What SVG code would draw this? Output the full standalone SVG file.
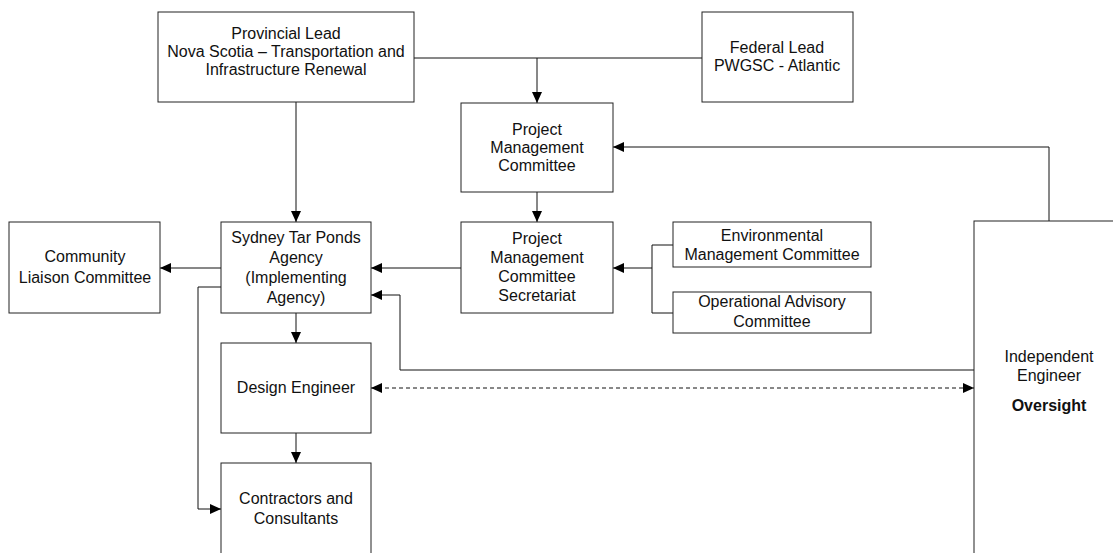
<svg xmlns="http://www.w3.org/2000/svg" width="1113" height="553" viewBox="0 0 1113 553">
<style>
.box{fill:#fff;stroke:#222;stroke-width:1}
.t{font-family:"Liberation Sans",Arial,sans-serif;font-size:16px;fill:#111;text-anchor:middle}
.b{font-weight:bold}
.c{fill:none;stroke:#111;stroke-width:1}
.d{stroke-dasharray:4,3}
</style>
<defs>
<marker id="ah" markerWidth="11" markerHeight="10" refX="11" refY="5" orient="auto" markerUnits="userSpaceOnUse">
<path d="M0,0 L11,5 L0,10 z" fill="#000"/>
</marker>
<marker id="as" markerWidth="11" markerHeight="10" refX="0" refY="5" orient="auto" markerUnits="userSpaceOnUse">
<path d="M11,0 L0,5 L11,10 z" fill="#000"/>
</marker>
</defs>
<rect width="1113" height="553" fill="#fff"/>
<g id="connectors">
<path class="c" d="M414,58 H702"/>
<path class="c" d="M537,58 V103" marker-end="url(#ah)"/>
<path class="c" d="M537,192 V222" marker-end="url(#ah)"/>
<path class="c" d="M296,102 V222" marker-end="url(#ah)"/>
<path class="c" d="M461,268 H371" marker-end="url(#ah)"/>
<path class="c" d="M221,268 H160" marker-end="url(#ah)"/>
<path class="c" d="M673,245 H652 V313 H673"/>
<path class="c" d="M652,268 H613" marker-end="url(#ah)"/>
<path class="c" d="M1049,221 V147 H613" marker-end="url(#ah)"/>
<path class="c" d="M974,370 H400 V295 H371" marker-end="url(#ah)"/>
<path class="c" d="M296,313 V343" marker-end="url(#ah)"/>
<path class="c d" d="M371,388 H974" marker-start="url(#as)" marker-end="url(#ah)"/>
<path class="c" d="M296,433 V463" marker-end="url(#ah)"/>
<path class="c" d="M221,287 H198 V509 H221" marker-end="url(#ah)"/>
</g>
<g id="provincial">
<rect class="box" x="158" y="12" width="256" height="90"/>
<text class="t" x="286" y="39">Provincial Lead</text>
<text class="t" x="286" y="57">Nova Scotia – Transportation and</text>
<text class="t" x="286" y="75">Infrastructure Renewal</text>
</g>
<g id="federal">
<rect class="box" x="702" y="12" width="151" height="90"/>
<text class="t" x="777" y="53">Federal Lead</text>
<text class="t" x="777" y="71">PWGSC - Atlantic</text>
</g>
<g id="pmc">
<rect class="box" x="461" y="103" width="152" height="89"/>
<text class="t" x="537" y="135">Project</text>
<text class="t" x="537" y="153">Management</text>
<text class="t" x="537" y="171">Committee</text>
</g>
<g id="secretariat">
<rect class="box" x="461" y="222" width="152" height="91"/>
<text class="t" x="537" y="244">Project</text>
<text class="t" x="537" y="263">Management</text>
<text class="t" x="537" y="282">Committee</text>
<text class="t" x="537" y="301">Secretariat</text>
</g>
<g id="agency">
<rect class="box" x="221" y="222" width="150" height="91"/>
<text class="t" x="296" y="243">Sydney Tar Ponds</text>
<text class="t" x="296" y="263">Agency</text>
<text class="t" x="296" y="283">(Implementing</text>
<text class="t" x="296" y="303">Agency)</text>
</g>
<g id="community">
<rect class="box" x="9" y="222" width="151" height="91"/>
<text class="t" x="85" y="262">Community</text>
<text class="t" x="85" y="283">Liaison Committee</text>
</g>
<g id="environmental">
<rect class="box" x="673" y="222" width="198" height="45"/>
<text class="t" x="772" y="241">Environmental</text>
<text class="t" x="772" y="260">Management Committee</text>
</g>
<g id="operational">
<rect class="box" x="673" y="292" width="198" height="41"/>
<text class="t" x="772" y="307">Operational Advisory</text>
<text class="t" x="772" y="327">Committee</text>
</g>
<g id="design">
<rect class="box" x="221" y="343" width="150" height="90"/>
<text class="t" x="296" y="393">Design Engineer</text>
</g>
<g id="contractors">
<rect class="box" x="221" y="463" width="150" height="120"/>
<text class="t" x="296" y="504">Contractors and</text>
<text class="t" x="296" y="524">Consultants</text>
</g>
<g id="independent">
<rect class="box" x="974" y="221" width="200" height="400"/>
<text class="t" x="1049" y="362">Independent</text>
<text class="t" x="1049" y="381">Engineer</text>
<text class="t b" x="1049" y="411">Oversight</text>
</g>
</svg>
